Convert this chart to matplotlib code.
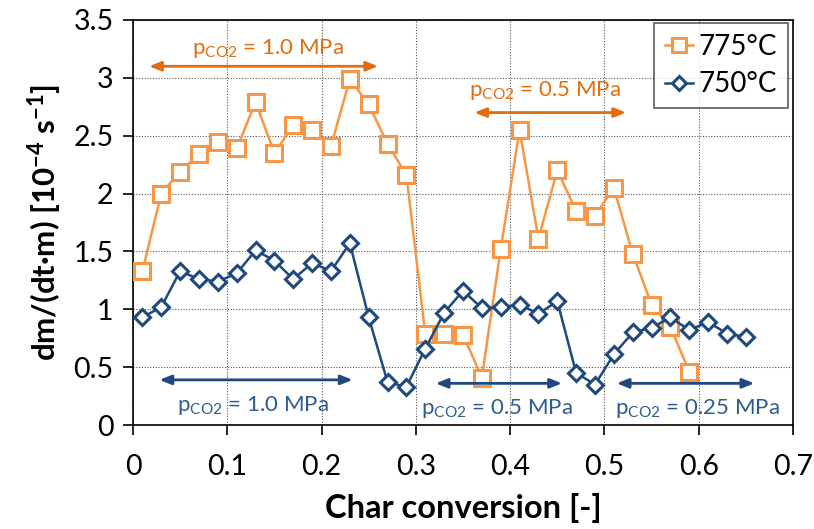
import matplotlib
matplotlib.use("Agg")
import matplotlib.pyplot as plt

# Char conversion (x) and normalised mass-loss rate (y) for both temperatures
conv_775 = [0.01, 0.03, 0.05, 0.07, 0.09, 0.11, 0.13, 0.15, 0.17, 0.19,
            0.21, 0.23, 0.25, 0.27, 0.29, 0.31, 0.33, 0.35, 0.37, 0.39,
            0.41, 0.43, 0.45, 0.47, 0.49, 0.51, 0.53, 0.55, 0.57, 0.59]
rate_775 = [1.33, 2.00, 2.19, 2.34, 2.45, 2.39, 2.79, 2.35, 2.59, 2.55,
            2.41, 2.99, 2.77, 2.43, 2.16, 0.79, 0.79, 0.78, 0.41, 1.52,
            2.55, 1.61, 2.20, 1.85, 1.81, 2.05, 1.48, 1.04, 0.85, 0.46]

conv_750 = [0.01, 0.03, 0.05, 0.07, 0.09, 0.11, 0.13, 0.15, 0.17, 0.19,
            0.21, 0.23, 0.25, 0.27, 0.29, 0.31, 0.33, 0.35, 0.37, 0.39,
            0.41, 0.43, 0.45, 0.47, 0.49, 0.51, 0.53, 0.55, 0.57, 0.59,
            0.61, 0.63, 0.65]
rate_750 = [0.93, 1.02, 1.33, 1.26, 1.24, 1.31, 1.51, 1.42, 1.26, 1.40,
            1.33, 1.57, 0.93, 0.37, 0.33, 0.66, 0.97, 1.16, 1.01, 1.02,
            1.04, 0.96, 1.07, 0.45, 0.35, 0.61, 0.80, 0.84, 0.93, 0.82,
            0.89, 0.79, 0.76]

series_labels = ["775°C", "750°C"]
x_ticks = [0, 0.1, 0.2, 0.3, 0.4, 0.5, 0.6, 0.7]
x_tick_labels = ["0", "0.1", "0.2", "0.3", "0.4", "0.5", "0.6", "0.7"]
y_ticks = [0, 0.5, 1, 1.5, 2, 2.5, 3, 3.5]
y_tick_labels = ["0", "0.5", "1", "1.5", "2", "2.5", "3", "3.5"]

ORANGE = "#F79646"
ORANGE_TXT = "#E46C0A"
BLUE = "#1F497D"
BLUE_TXT = "#2E5B8F"

plt.rcParams["font.family"] = ["Lato", "DejaVu Sans"]
plt.rcParams["mathtext.fontset"] = "custom"
plt.rcParams["mathtext.rm"] = "Lato"
plt.rcParams["mathtext.bf"] = "Lato:bold"

fig = plt.figure(figsize=(8.14, 5.29), dpi=100)
ax = fig.add_axes([133 / 814, 1 - 425 / 529, 660 / 814, 405 / 529])

ax.plot(conv_775, rate_775, color=ORANGE, lw=1.8, marker="s", ms=11,
        mfc="white", mec=ORANGE, mew=2.2, label=series_labels[0], zorder=3)
ax.plot(conv_750, rate_750, color=BLUE, lw=1.8, marker="D", ms=8,
        mfc="white", mec=BLUE, mew=2.2, label=series_labels[1], zorder=3)

ax.set_xlim(0, 0.7)
ax.set_ylim(0, 3.5)
ax.set_xticks(x_ticks)
ax.set_xticklabels(x_tick_labels)
ax.set_yticks(y_ticks)
ax.set_yticklabels(y_tick_labels)
ax.tick_params(axis="both", direction="out", length=7, width=1.2,
               labelsize=20.5, colors="black", pad=7)
ax.tick_params(axis="x", pad=14)
ax.grid(True, color="#555555", linestyle=(0, (1, 1.5)), linewidth=0.8)
ax.set_axisbelow(True)
for s in ax.spines.values():
    s.set_color("black")
    s.set_linewidth(1.2)

ax.set_xlabel("Char conversion [-]", fontsize=23.5, fontweight="bold", labelpad=9)
ax.set_ylabel(r"dm/(dt·m) [10$^{\mathbf{-4}}$ s$^{\mathbf{-1}}$]",
              fontsize=22.5, fontweight="bold", labelpad=6)

# Pressure ranges marked with double-headed arrows
def span(x0, x1, y, color):
    ax.annotate("", xy=(x1, y), xytext=(x0, y),
                arrowprops=dict(arrowstyle="<|-|>,head_length=0.7,head_width=0.28",
                                color=color, lw=2, shrinkA=0, shrinkB=0),
                zorder=4)

def label(x, y, text, color):
    ax.text(x, y, r"p$_{\mathregular{CO2}}$ = " + text, color=color,
            fontsize=16, ha="center", va="center", zorder=4)

span(0.017, 0.260, 3.10, ORANGE_TXT)
label(0.143, 3.25, "1.0 MPa", ORANGE_TXT)
span(0.362, 0.523, 2.70, ORANGE_TXT)
label(0.437, 2.89, "0.5 MPa", ORANGE_TXT)

span(0.028, 0.233, 0.39, BLUE)
label(0.127, 0.17, "1.0 MPa", BLUE_TXT)
span(0.321, 0.455, 0.36, BLUE)
label(0.386, 0.14, "0.5 MPa", BLUE_TXT)
span(0.513, 0.659, 0.36, BLUE)
label(0.599, 0.14, "0.25 MPa", BLUE_TXT)

leg = ax.legend(loc="upper right", bbox_to_anchor=(788 / 814, 1 - 23 / 529),
                bbox_transform=fig.transFigure, borderaxespad=0,
                fontsize=20, frameon=True, fancybox=False, edgecolor="#333333",
                handlelength=1.0, handletextpad=0.2, labelspacing=0.4,
                borderpad=0.4, markerscale=0.9)
leg.get_frame().set_linewidth(1.2)
leg.set_zorder(5)

fig.savefig("out.png", dpi=100)
